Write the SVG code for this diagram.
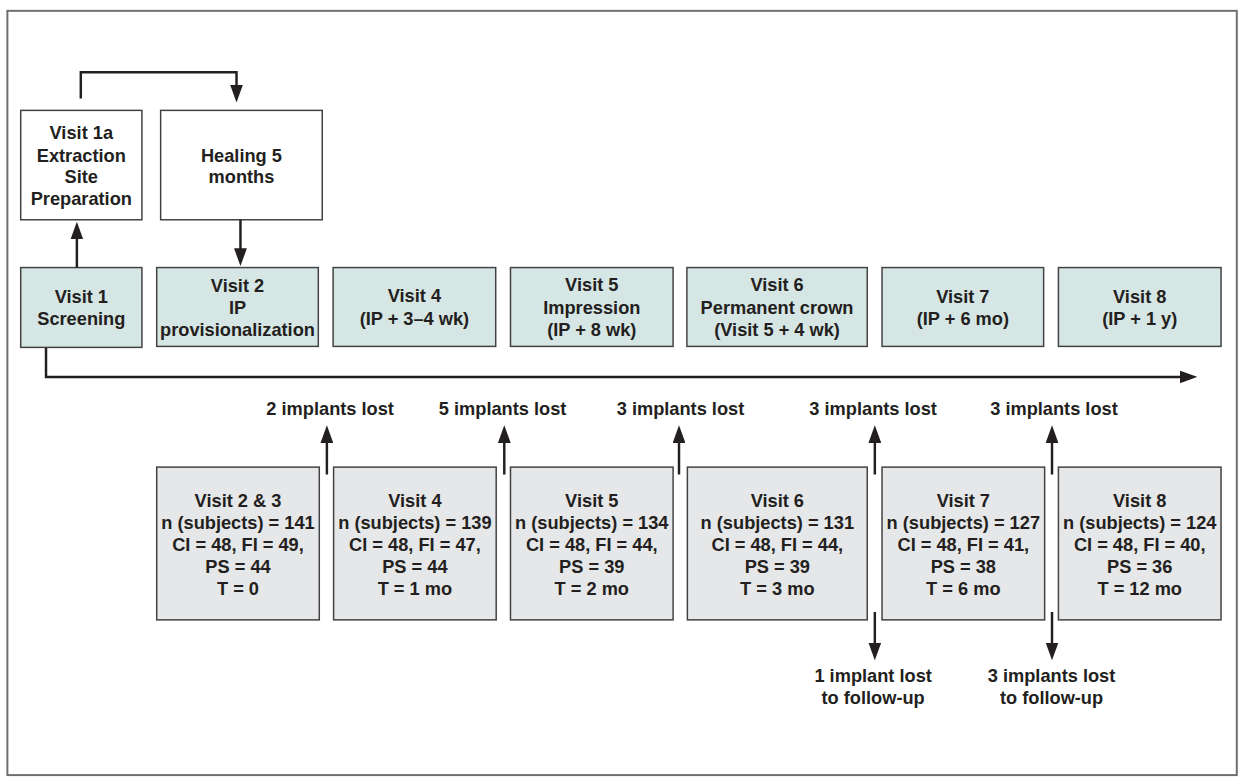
<svg xmlns="http://www.w3.org/2000/svg" width="1244" height="784" viewBox="0 0 1244 784">
<style>
text{font-family:"Liberation Sans",Arial,sans-serif;font-weight:bold;font-size:18.5px;fill:#231f20;text-anchor:middle}
.w{fill:#ffffff;stroke:#414042;stroke-width:1.5}
.t{fill:#d6e6e4;stroke:#414042;stroke-width:1.5}
.g{fill:#e6e7e8;stroke:#414042;stroke-width:1.5}
.c{fill:none;stroke:#231f20;stroke-width:2.5}
</style>
<defs>
<marker id="ah" viewBox="0 0 18 13" refX="10" refY="6.5" markerWidth="18" markerHeight="13" orient="auto" markerUnits="userSpaceOnUse">
<path d="M0,0 L18,6.5 L0,13 z" fill="#231f20"/>
</marker>
</defs>
<g transform="scale(0.9855)">
<rect x="7.5" y="11" width="1247.5" height="775.5" fill="none" stroke="#6d6e71" stroke-width="2"/>
<g id="visit1a"><rect class="w" x="21" y="112" width="123" height="111"/><text x="82.5" y="140.7">Visit 1a</text><text x="82.5" y="164">Extraction</text><text x="82.5" y="185.7">Site</text><text x="82.5" y="208">Preparation</text></g>
<g id="healing"><rect class="w" x="163" y="112" width="164" height="111"/><text x="245" y="164">Healing 5</text><text x="245" y="185.7">months</text></g>
<g id="visit1"><rect class="t" x="21" y="271.5" width="123" height="81"/><text x="82.5" y="307.7">Visit 1</text><text x="82.5" y="330">Screening</text></g>
<g id="visit2"><rect class="t" x="159" y="271.5" width="164" height="80"/><text x="241" y="296">Visit 2</text><text x="241" y="318.3">IP</text><text x="241" y="340.7">provisionalization</text></g>
<g id="visit4"><rect class="t" x="338" y="271.5" width="165" height="80"/><text x="420.5" y="306.7">Visit 4</text><text x="420.5" y="329.3">(IP + 3–4 wk)</text></g>
<g id="visit5"><rect class="t" x="518" y="271.5" width="165" height="80"/><text x="600.5" y="295.7">Visit 5</text><text x="600.5" y="318.3">Impression</text><text x="600.5" y="341">(IP + 8 wk)</text></g>
<g id="visit6"><rect class="t" x="697" y="271.5" width="183" height="80"/><text x="788.5" y="295.7">Visit 6</text><text x="788.5" y="318.3">Permanent crown</text><text x="788.5" y="341">(Visit 5 + 4 wk)</text></g>
<g id="visit7"><rect class="t" x="895" y="271.5" width="164" height="80"/><text x="977" y="307.3">Visit 7</text><text x="977" y="330">(IP + 6 mo)</text></g>
<g id="visit8"><rect class="t" x="1074" y="271.5" width="165" height="80"/><text x="1156.5" y="307.3">Visit 8</text><text x="1156.5" y="330">(IP + 1 y)</text></g>
<g id="n23"><rect class="g" x="159" y="474" width="165" height="155"/><text x="241.5" y="514">Visit 2 &amp; 3</text><text x="241.5" y="536.5">n (subjects) = 141</text><text x="241.5" y="559">CI = 48, FI = 49,</text><text x="241.5" y="581.5">PS = 44</text><text x="241.5" y="603.5">T = 0</text></g>
<g id="n4"><rect class="g" x="338.5" y="474" width="165" height="155"/><text x="421" y="514">Visit 4</text><text x="421" y="536.5">n (subjects) = 139</text><text x="421" y="559">CI = 48, FI = 47,</text><text x="421" y="581.5">PS = 44</text><text x="421" y="603.5">T = 1 mo</text></g>
<g id="n5"><rect class="g" x="518" y="474" width="165" height="155"/><text x="600.5" y="514">Visit 5</text><text x="600.5" y="536.5">n (subjects) = 134</text><text x="600.5" y="559">CI = 48, FI = 44,</text><text x="600.5" y="581.5">PS = 39</text><text x="600.5" y="603.5">T = 2 mo</text></g>
<g id="n6"><rect class="g" x="697.5" y="474" width="182.5" height="155"/><text x="788.75" y="514">Visit 6</text><text x="788.75" y="536.5">n (subjects) = 131</text><text x="788.75" y="559">CI = 48, FI = 44,</text><text x="788.75" y="581.5">PS = 39</text><text x="788.75" y="603.5">T = 3 mo</text></g>
<g id="n7"><rect class="g" x="895" y="474" width="165" height="155"/><text x="977.5" y="514">Visit 7</text><text x="977.5" y="536.5">n (subjects) = 127</text><text x="977.5" y="559">CI = 48, FI = 41,</text><text x="977.5" y="581.5">PS = 38</text><text x="977.5" y="603.5">T = 6 mo</text></g>
<g id="n8"><rect class="g" x="1074" y="474" width="165" height="155"/><text x="1156.5" y="514">Visit 8</text><text x="1156.5" y="536.5">n (subjects) = 124</text><text x="1156.5" y="559">CI = 48, FI = 40,</text><text x="1156.5" y="581.5">PS = 36</text><text x="1156.5" y="603.5">T = 12 mo</text></g>
<g id="labels">
<text x="335" y="421">2 implants lost</text>
<text x="510" y="421">5 implants lost</text>
<text x="690.5" y="421">3 implants lost</text>
<text x="886" y="421">3 implants lost</text>
<text x="1069.5" y="421">3 implants lost</text>
<text x="886" y="691.7">1 implant lost</text><text x="886" y="714">to follow-up</text>
<text x="1067" y="691.7">3 implants lost</text><text x="1067" y="714">to follow-up</text>
</g>
<g id="connectors">
<path class="c" d="M82,100 V73.3 H240 V96" marker-end="url(#ah)"/>
<path class="c" d="M78,271.5 V233" marker-end="url(#ah)"/>
<path class="c" d="M244,223 V262" marker-end="url(#ah)"/>
<path class="c" d="M46.7,353 V382.5 H1207" marker-end="url(#ah)"/>
<path class="c" d="M331.7,481.5 V439.5" marker-end="url(#ah)"/>
<path class="c" d="M511.7,481.5 V439.5" marker-end="url(#ah)"/>
<path class="c" d="M689,481.5 V439.5" marker-end="url(#ah)"/>
<path class="c" d="M887.7,481.5 V439.5" marker-end="url(#ah)"/>
<path class="c" d="M1067.5,481.5 V439.5" marker-end="url(#ah)"/>
<path class="c" d="M887.7,621 V662" marker-end="url(#ah)"/>
<path class="c" d="M1067.5,621 V662" marker-end="url(#ah)"/>
</g>
</g>
</svg>
